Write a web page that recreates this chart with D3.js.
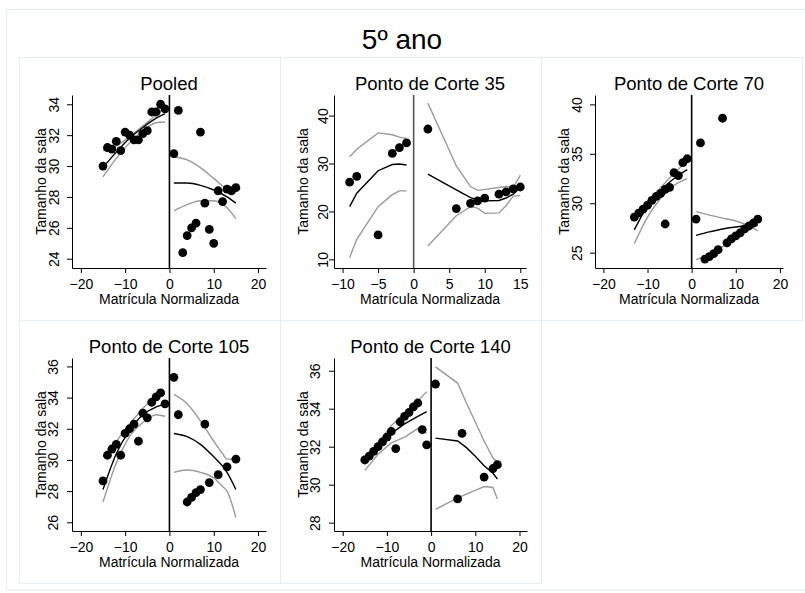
<!DOCTYPE html>
<html>
<head>
<meta charset="utf-8">
<script src="https://cdn.jsdelivr.net/npm/d3@7"></script>
<style>
  body { margin: 0; background: #fff; }
  svg { display: block; }
  text { font-family: 'Liberation Sans', Arial, Helvetica, sans-serif; fill: #000; }
</style>
</head>
<body>
<svg id="chart" width="805" height="593"></svg>
<script>
// ---- data ----
const panelTitles = ['Pooled', 'Ponto de Corte 35', 'Ponto de Corte 70', 'Ponto de Corte 105', 'Ponto de Corte 140'];

// Pooled
const pooledX = [-15,-14,-13,-12,-11,-10,-9,-8,-7,-6,-5,-4,-3,-2,-1, 1,2,3,4,5,6,7,8,9,10,11,12,13,14,15];
const pooledY = [30.0,31.2,31.1,31.6,31.0,32.2,32.0,31.7,31.7,32.1,32.3,33.5,33.5,34.0,33.7,
                 30.8,33.6,24.4,25.5,26.0,26.3,32.2,27.6,25.9,25.0,28.4,27.7,28.5,28.4,28.6];
const pooledFitLX = [-15,-12,-9,-6,-3,-1];
const pooledFitL  = [29.9,30.9,31.8,32.5,33.1,33.4];
const pooledHiL   = [31.0,31.3,31.9,32.6,33.3,33.8];
const pooledLoL   = [29.3,30.5,31.5,32.3,32.8,32.85];
const pooledFitRX = [1,4,7,10,13,15];
const pooledFitR  = [28.9,28.9,28.75,28.45,28.0,27.6];
const pooledHiR   = [30.6,30.4,29.9,29.2,28.5,28.3];
const pooledLoR   = [27.1,27.5,27.75,27.75,27.3,26.6];

// Ponto de Corte 35
const pc35X = [-9,-8,-5,-3,-2,-1, 2,6,8,9,10,12,13,14,15];
const pc35Y = [26.1,27.3,15.1,32.1,33.3,34.3, 37.2,20.6,21.7,22.2,22.8,23.6,24.1,24.7,25.1];
const pc35FitLX = [-9,-8,-5,-3,-2,-1];
const pc35FitL  = [21.0,23.8,28.5,29.8,29.9,29.7];
const pc35HiL   = [31.4,33.0,36.4,36.0,35.5,35.2];
const pc35LoL   = [10.4,14.2,21.0,23.5,24.3,24.3];
const pc35FitRX = [2,6,8,9,10,12,13,14,15];
const pc35FitR  = [27.8,24.5,22.9,22.4,22.2,22.3,22.8,23.6,25.0];
const pc35HiR   = [42.6,29.5,25.2,24.4,24.6,25.0,25.2,25.0,27.6];
const pc35LoR   = [12.8,19.1,21.0,20.7,19.6,19.7,21.2,23.2,23.3];

// Ponto de Corte 70
const pc70X = [-13,-12,-11,-10,-9,-8,-7,-6,-6,-5,-4,-3,-2,-1, 1,2,3,4,5,6,7,8,9,10,11,12,13,14,15];
const pc70Y = [28.6,29.0,29.4,29.8,30.3,30.7,31.0,31.4,27.9,31.6,33.1,32.8,34.1,34.5,
               28.4,36.1,24.35,24.6,24.9,25.3,38.6,26.0,26.4,26.7,27.0,27.4,27.7,28.0,28.4];
const pc70FitLX = [-13,-10,-7,-4,-1];
const pc70FitL  = [27.3,29.7,31.3,32.5,33.4];
const pc70HiL   = [28.8,30.2,31.6,33.0,34.3];
const pc70LoL   = [25.9,28.6,30.5,31.8,32.5];
const pc70FitRX = [1,4,7,10,13,15];
const pc70FitR  = [26.75,27.1,27.4,27.6,27.75,27.8];
const pc70HiR   = [29.15,28.8,28.5,28.2,27.7,27.2];
const pc70LoR   = [24.3,24.8,25.6,26.5,27.5,28.2];

// Ponto de Corte 105
const pc105X = [-15,-14,-13,-12,-11,-10,-9,-8,-7,-6,-5,-4,-3,-2,-1, 1,2,4,5,6,7,8,9,11,13,15];
const pc105Y = [28.65,30.3,30.7,31.0,30.3,31.7,32.0,32.3,31.2,33.0,32.7,33.7,34.05,34.3,33.6,
                35.3,32.9,27.3,27.6,27.9,28.1,32.3,28.55,29.05,29.55,30.05];
const pc105FitLX = [-15,-12,-9,-6,-3,-1];
const pc105FitL  = [28.1,30.4,31.9,32.9,33.4,33.6];
const pc105HiL   = [30.2,31.2,32.3,33.3,34.1,34.4];
const pc105LoL   = [27.3,29.8,31.5,32.4,32.9,32.8];
const pc105FitRX = [1,4,7,10,12,13,15];
const pc105FitR  = [31.7,31.5,31.0,30.2,29.6,29.2,28.1];
const pc105HiR   = [34.2,33.6,32.5,31.2,30.4,30.05,30.05];
const pc105LoR   = [29.2,29.35,29.2,28.85,28.3,28.0,26.3];

// Ponto de Corte 140
const pc140X = [-15,-14,-13,-12,-11,-10,-9,-8,-7,-6,-5,-4,-3,-2,-1, 1,6,7,12,14,15];
const pc140Y = [31.3,31.5,31.75,32.0,32.25,32.5,32.8,31.9,33.3,33.6,33.8,34.1,34.3,32.9,32.1,
                35.3,29.25,32.7,30.4,30.85,31.05];
const pc140FitLX = [-15,-12,-9,-6,-3,-1];
const pc140FitL  = [31.4,32.0,32.7,33.2,33.6,33.85];
const pc140HiL   = [31.5,32.2,33.1,33.8,34.4,34.9];
const pc140LoL   = [30.75,31.6,32.2,32.5,32.95,32.7];
const pc140FitRX = [1,6,8,10,12,14,15];
const pc140FitR  = [32.45,32.3,31.95,31.5,31.0,30.6,30.3];
const pc140HiR   = [36.2,35.35,34.3,33.3,32.3,31.4,31.2];
const pc140LoR   = [28.7,29.3,29.5,29.7,29.9,29.85,29.25];

// tick labels
const xTicksWide = [-20,-10,0,10,20];
const xTicks35 = [-10,-5,0,5,10,15];
const yTicksPooled = [24,26,28,30,32,34];
const yTicks35 = [10,20,30,40];
const yTicks70 = [25,30,35,40];
const yTicks105 = [26,28,30,32,34,36];
const yTicks140 = [28,30,32,34,36];

// ---- layout ----
const svg = d3.select('#chart');
const faint = '#e6edf0';

svg.append('rect')
  .attr('x', 6.5).attr('y', 9.5).attr('width', 810).attr('height', 580.5)
  .attr('fill', 'none').attr('stroke', faint);

svg.append('text')
  .attr('x', 402).attr('y', 49)
  .attr('text-anchor', 'middle')
  .style('font-size', '28px')
  .text('5º ano');

const zip = (xs, ys) => xs.map((v, i) => [v, ys[i]]);

const panels = [
  { title: panelTitles[0], cell: [19, 57], box: [72, 266, 95, 268], xd: [-22, 21.8], yd: [23.4, 34.6],
    xt: xTicksWide, yt: yTicksPooled, smooth: true, pts: zip(pooledX, pooledY), labGap: 13,
    left: [pooledFitLX, pooledFitL, pooledHiL, pooledLoL], right: [pooledFitRX, pooledFitR, pooledHiR, pooledLoR] },
  { title: panelTitles[1], cell: [280, 57], box: [334, 526, 95, 268], xd: [-11.2, 15.8], yd: [8.2, 44.3],
    xt: xTicks35, yt: yTicks35, smooth: false, pts: zip(pc35X, pc35Y), cutColor: '#555', labGap: 6,
    left: [pc35FitLX, pc35FitL, pc35HiL, pc35LoL], right: [pc35FitRX, pc35FitR, pc35HiR, pc35LoR] },
  { title: panelTitles[2], cell: [541, 57], box: [595, 783, 95, 268], xd: [-21.9, 20.7], yd: [23.45, 40.95],
    xt: xTicksWide, yt: yTicks70, smooth: true, pts: zip(pc70X, pc70Y), labGap: 13,
    left: [pc70FitLX, pc70FitL, pc70HiL, pc70LoL], right: [pc70FitRX, pc70FitR, pc70HiR, pc70LoR] },
  { title: panelTitles[3], cell: [19, 320], box: [72, 266, 358, 531], xd: [-22, 21.8], yd: [25.44, 36.54],
    xt: xTicksWide, yt: yTicks105, smooth: true, pts: zip(pc105X, pc105Y), labGap: 14,
    left: [pc105FitLX, pc105FitL, pc105HiL, pc105LoL], right: [pc105FitRX, pc105FitR, pc105HiR, pc105LoR] },
  { title: panelTitles[4], cell: [280, 320], box: [334, 527, 358, 531], xd: [-21.97, 21.7], yd: [27.56, 36.67],
    xt: xTicksWide, yt: yTicks140, smooth: false, pts: zip(pc140X, pc140Y), labGap: 14,
    left: [pc140FitLX, pc140FitL, pc140HiL, pc140LoL], right: [pc140FitRX, pc140FitR, pc140HiR, pc140LoR] },
];

panels.forEach(p => {
  const [x0, x1, y0, y1] = p.box;
  const g = svg.append('g');

  g.append('rect')
    .attr('x', p.cell[0] + 0.5).attr('y', p.cell[1] + 0.5)
    .attr('width', 261).attr('height', 263)
    .attr('fill', 'none').attr('stroke', faint);

  const x = d3.scaleLinear().domain(p.xd).range([x0, x1]);
  const y = d3.scaleLinear().domain(p.yd).range([y1, y0]);

  // title
  g.append('text')
    .attr('x', (x0 + x1) / 2).attr('y', y0 - 5)
    .attr('text-anchor', 'middle')
    .style('font-size', '18.5px')
    .text(p.title);

  // x axis
  const xa = g.append('g')
    .attr('transform', `translate(0,${y1})`)
    .call(d3.axisBottom(x).tickValues(p.xt).tickSize(5).tickSizeOuter(0).tickFormat(d3.format('d')));
  xa.selectAll('text').attr('y', 21).attr('dy', 0).style('font-size', '14px').attr('fill', '#000');

  // y axis
  const ya = g.append('g')
    .attr('transform', `translate(${x0},0)`)
    .call(d3.axisLeft(y).tickValues(p.yt).tickSize(5).tickSizeOuter(0));
  ya.selectAll('text')
    .attr('transform', 'rotate(-90)')
    .attr('x', 0).attr('y', -p.labGap).attr('dy', 0)
    .attr('text-anchor', 'middle')
    .style('font-size', '14px').attr('fill', '#000');
  g.selectAll('.domain, .tick line').attr('stroke', '#000').attr('stroke-width', 1);

  // axis titles
  g.append('text')
    .attr('x', (x0 + x1) / 2).attr('y', y1 + 36)
    .attr('text-anchor', 'middle')
    .style('font-size', '14px')
    .text('Matrícula Normalizada');
  g.append('text')
    .attr('transform', `translate(${x0 - 26},${(y0 + y1) / 2}) rotate(-90)`)
    .attr('text-anchor', 'middle')
    .style('font-size', '14px')
    .text('Tamanho da sala');

  // cut line
  g.append('line')
    .attr('x1', x(0)).attr('x2', x(0)).attr('y1', y0).attr('y2', y1)
    .attr('stroke', p.cutColor || '#000').attr('stroke-width', 1.6);

  // fitted lines and bands
  const line = d3.line()
    .x(d => x(d[0])).y(d => y(d[1]))
    .curve(p.smooth ? d3.curveMonotoneX : d3.curveLinear);
  [p.left, p.right].forEach(([xs, fit, hi, lo]) => {
    [[hi, '#9a9a9a'], [lo, '#9a9a9a'], [fit, '#000']].forEach(([ys, col]) => {
      g.append('path')
        .datum(zip(xs, ys))
        .attr('d', line)
        .attr('fill', 'none')
        .attr('stroke', col)
        .attr('stroke-width', 1.4);
    });
  });

  // points
  g.selectAll('circle.pt')
    .data(p.pts)
    .enter().append('circle')
    .attr('class', 'pt')
    .attr('cx', d => x(d[0])).attr('cy', d => y(d[1]))
    .attr('r', 4.4)
    .attr('fill', '#000');
});
</script>
</body>
</html>
